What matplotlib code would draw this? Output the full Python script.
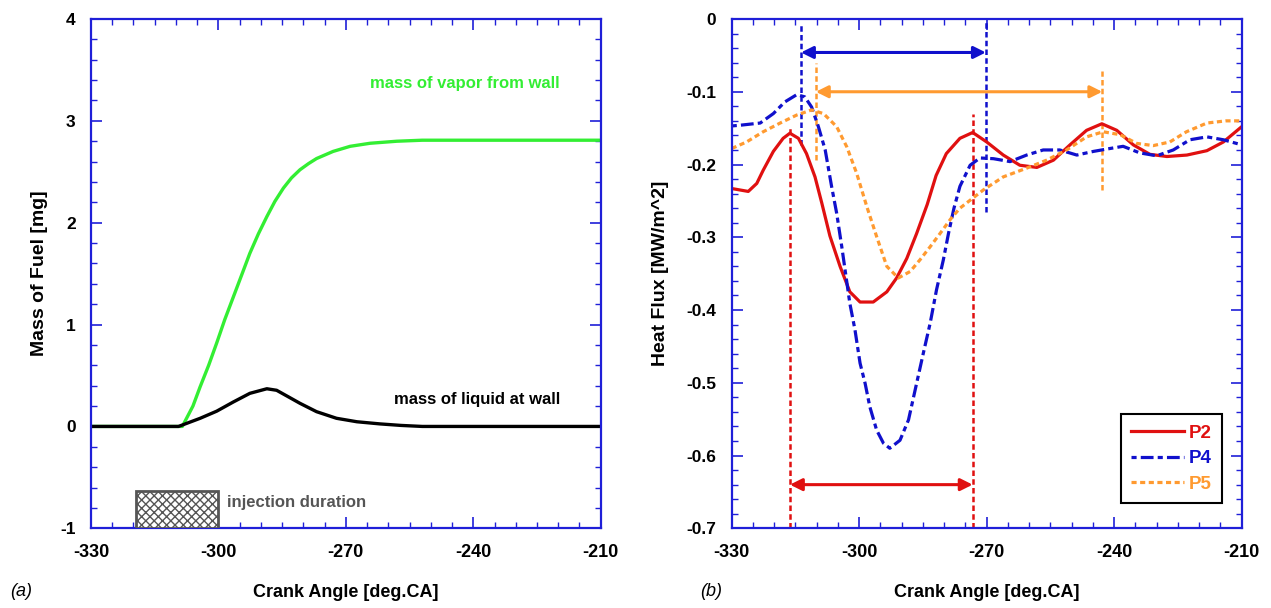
import matplotlib
matplotlib.use("Agg")
import matplotlib.pyplot as plt
from matplotlib import font_manager
from matplotlib.ticker import MultipleLocator, FormatStrFormatter
from matplotlib.patches import Rectangle

# ---------------- data ----------------
# (a) mass of fuel
vap_x = [-330, -308.5, -306, -304.3, -302.3, -300.4, -298.5, -296.5, -294.5, -292.6, -290.6,
         -288.6, -286.7, -284.7, -282.8, -280.8, -278.8, -276.9, -273, -269, -264.3, -258,
         -252, -240, -210]
vap_y = [0, 0, 0.2, 0.39, 0.6, 0.82, 1.05, 1.27, 1.49, 1.70, 1.89,
         2.06, 2.21, 2.34, 2.44, 2.52, 2.58, 2.63, 2.70, 2.75, 2.78, 2.80,
         2.81, 2.81, 2.81]
liq_x = [-330, -309.4, -304.3, -300.4, -296.5, -292.6, -288.6, -286.3, -283.5, -280.8, -276.9,
         -272.2, -267.4, -262, -257, -252, -210]
liq_y = [0, 0, 0.08, 0.15, 0.24, 0.325, 0.37, 0.355, 0.29, 0.227, 0.145,
         0.08, 0.046, 0.025, 0.01, 0, 0]
inj_start, inj_end = -319.5, -300.0

# (b) heat flux
p2_x = [-330, -326.1, -324.1, -322.6, -320.2, -317.9, -316.3, -314.3, -312.4, -310.4, -308.8,
        -306.9, -304.5, -302.2, -299.8, -296.7, -293.5, -291.2, -288.8, -286.5, -284, -281.9,
        -279.5, -276.3, -273.3, -270, -266.1, -262.2, -258.2, -254.3, -250.4, -246.5, -242.9,
        -239.4, -235.5, -231.6, -227.6, -222.9, -218.2, -214.3, -210]
p2_y = [-0.233, -0.237, -0.226, -0.208, -0.182, -0.164, -0.157, -0.164, -0.185, -0.217, -0.253,
        -0.298, -0.340, -0.375, -0.389, -0.389, -0.375, -0.356, -0.329, -0.295, -0.255, -0.215,
        -0.185, -0.164, -0.156, -0.169, -0.187, -0.201, -0.204, -0.194, -0.173, -0.153, -0.144,
        -0.153, -0.173, -0.186, -0.189, -0.187, -0.181, -0.169, -0.148]
p4_x = [-330, -328, -323.3, -320.2, -317.5, -314.7, -312.8, -311.2, -309.6, -308, -306.5,
        -305.3, -304.1, -302.2, -301, -299.8, -298.6, -297.5, -295.9, -294.3, -292.8, -290.4,
        -288.4, -286.5, -284.9, -283.3, -281.8, -280.2, -279, -277.7, -276.3, -273.9, -271.6,
        -268.4, -264.5, -260.6, -256.7, -252.8, -248.8, -244.9, -241, -237.9, -234, -230,
        -226.1, -222.2, -218.2, -214.3, -210]
p4_y = [-0.147, -0.146, -0.143, -0.130, -0.114, -0.104, -0.107, -0.121, -0.148, -0.180, -0.230,
        -0.267, -0.313, -0.391, -0.427, -0.473, -0.501, -0.533, -0.565, -0.583, -0.590, -0.579,
        -0.551, -0.501, -0.459, -0.418, -0.372, -0.331, -0.295, -0.260, -0.230, -0.201, -0.191,
        -0.192, -0.196, -0.187, -0.180, -0.180, -0.187, -0.182, -0.178, -0.175, -0.184, -0.188,
        -0.180, -0.166, -0.162, -0.166, -0.173]
p5_x = [-330, -326.5, -322.6, -318.6, -314.7, -311.2, -308.4, -305.3, -302.9, -300.6, -298.2,
        -295.9, -293.5, -290.8, -288, -285.7, -283.3, -281, -278.5, -276.3, -270.8, -266.1,
        -260.6, -255.9, -251.2, -246.5, -242.6, -238.6, -234.7, -230.8, -226.9, -223, -218.2,
        -213.7, -210]
p5_y = [-0.178, -0.169, -0.155, -0.143, -0.132, -0.125, -0.130, -0.148, -0.176, -0.212, -0.258,
        -0.299, -0.340, -0.356, -0.347, -0.331, -0.313, -0.295, -0.275, -0.260, -0.235, -0.217,
        -0.205, -0.194, -0.180, -0.162, -0.155, -0.159, -0.171, -0.174, -0.169, -0.155, -0.143,
        -0.140, -0.140]

# marker lines: (x, y_bottom, y_top)
red_marks = [(-316.3, -0.7, -0.15), (-273.3, -0.7, -0.13)]
blue_marks = [(-313.7, -0.173, -0.006), (-270.2, -0.265, 0.0)]
orange_marks = [(-310.2, -0.194, -0.061), (-242.8, -0.235, -0.072)]
red_arrow = (-316.3, -273.3, -0.64)
blue_arrow = (-313.7, -270.2, -0.046)
orange_arrow = (-310.2, -242.8, -0.1)

# ---------------- style ----------------
plt.rcParams['axes.unicode_minus'] = False
plt.rcParams['hatch.linewidth'] = 1.0
names = {f.name for f in font_manager.fontManager.ttflist}
SANS = 'Liberation Sans' if 'Liberation Sans' in names else 'DejaVu Sans'
NARROW = 'Liberation Sans Narrow' if 'Liberation Sans Narrow' in names else SANS
plt.rcParams['font.family'] = SANS

SPINE = '#1f1fd8'
RED = '#e01010'
BLUE = '#1010cc'
ORANGE = '#ff9a30'
GREEN = '#33ee33'

W, H = 1271, 608
fig = plt.figure(figsize=(W / 100, H / 100), dpi=100)

def px_axes(x0, x1, y0, y1):
    return fig.add_axes([x0 / W, (H - y1) / H, (x1 - x0) / W, (y1 - y0) / H])

axa = px_axes(91, 600.7, 19, 528.3)
axb = px_axes(731.7, 1241.7, 19, 528.3)

def style(ax):
    for s in ax.spines.values():
        s.set_color(SPINE)
        s.set_linewidth(1.6)
    ax.tick_params(which='both', direction='in', top=True, right=True, color=SPINE)
    ax.tick_params(which='major', length=8, width=1.2)
    ax.tick_params(which='minor', length=4.5, width=1.0)
    ax.tick_params(axis='y', pad=11, labelsize=12.5)
    ax.tick_params(axis='x', pad=11, labelsize=13)
    for lab in ax.get_yticklabels():
        lab.set_fontweight('bold')
    for lab in ax.get_xticklabels():
        lab.set_fontweight('bold')
        lab.set_family(NARROW)
    ax.set_xlabel('Crank Angle [deg.CA]', fontsize=13, fontweight='bold', family=NARROW)
    ax.xaxis.set_label_coords(0.5, -0.11)

# ----- (a) -----
axa.set_xlim(-330, -210)
axa.set_ylim(-1, 4)
axa.xaxis.set_major_locator(MultipleLocator(30))
axa.xaxis.set_minor_locator(MultipleLocator(5))
axa.yaxis.set_major_locator(MultipleLocator(1))
axa.yaxis.set_minor_locator(MultipleLocator(0.2))
axa.yaxis.set_major_formatter(FormatStrFormatter('%d'))
axa.plot(vap_x, vap_y, color=GREEN, lw=2.4, solid_joinstyle='round')
axa.plot(liq_x, liq_y, color='black', lw=2.4, solid_joinstyle='round')
axa.add_patch(Rectangle((inj_start, -1), inj_end - inj_start, 0.365, facecolor='white',
                        edgecolor='#555555', hatch='xxxx', lw=2.0, zorder=3))
axa.text(-298, -0.745, 'injection duration', color='#555555', fontsize=12,
         fontweight='bold', ha='left', va='center')
axa.text(-239.1, 0.26, 'mass of liquid at wall', color='black', fontsize=12,
         fontweight='bold', ha='center', va='center')
axa.text(-241.9, 3.37, 'mass of vapor from wall', color=GREEN, fontsize=12,
         fontweight='bold', ha='center', va='center')
axa.set_ylabel('Mass of Fuel [mg]', fontsize=14, fontweight='bold')
axa.yaxis.set_label_coords(-0.085, 0.5)
style(axa)

# ----- (b) -----
axb.set_xlim(-330, -210)
axb.set_ylim(-0.7, 0)
axb.xaxis.set_major_locator(MultipleLocator(30))
axb.xaxis.set_minor_locator(MultipleLocator(5))
axb.yaxis.set_major_locator(MultipleLocator(0.1))
axb.yaxis.set_minor_locator(MultipleLocator(0.02))
axb.yaxis.set_major_formatter(plt.FuncFormatter(lambda v, p: '0' if abs(v) < 1e-9 else f'{v:.1f}'))

for x, y0, y1 in red_marks:
    axb.plot([x, x], [y0, y1], color=RED, lw=1.8, ls=(0, (2.2, 1.3)), clip_on=False)
for x, y0, y1 in blue_marks:
    axb.plot([x, x], [y0, y1], color=BLUE, lw=1.8, ls=(0, (2.2, 1.3)))
for x, y0, y1 in orange_marks:
    axb.plot([x, x], [y0, y1], color=ORANGE, lw=1.8, ls=(0, (2.2, 1.3)))

l2, = axb.plot(p2_x, p2_y, color=RED, lw=2.3, label='P2')
l4, = axb.plot(p4_x, p4_y, color=BLUE, lw=2.3, ls=(0, (1.6, 1.3, 4.0, 1.3)), label='P4')
l5, = axb.plot(p5_x, p5_y, color=ORANGE, lw=2.3, ls=(0, (1.6, 1.1)), label='P5')

for (xa, xb, y), c in [(red_arrow, RED), (blue_arrow, BLUE), (orange_arrow, ORANGE)]:
    axb.annotate('', xy=(xb, y), xytext=(xa, y),
                 arrowprops=dict(arrowstyle='<|-|>', color=c, lw=2.2,
                                 mutation_scale=18, shrinkA=0, shrinkB=0))

leg = axb.legend(handles=[l2, l4, l5], loc='lower right', bbox_to_anchor=(0.962, 0.049),
                 frameon=True, fancybox=False, edgecolor='black', framealpha=1,
                 prop=dict(family=SANS, weight='bold', size=13.5), handlelength=2.8,
                 handletextpad=0.3, labelspacing=0.45, borderpad=0.55, borderaxespad=0)
leg.get_frame().set_linewidth(1.5)
for t, c in zip(leg.get_texts(), [RED, BLUE, ORANGE]):
    t.set_color(c)

axb.set_ylabel('Heat Flux [MW/m^2]', fontsize=14, fontweight='bold')
axb.yaxis.set_label_coords(-0.122, 0.5)
style(axb)

fig.text(10 / W, 1 - 592 / H, '(a)', fontsize=13, style='italic', va='center', ha='left')
fig.text(700 / W, 1 - 592 / H, '(b)', fontsize=13, style='italic', va='center', ha='left')

fig.savefig('out.png', dpi=100)
